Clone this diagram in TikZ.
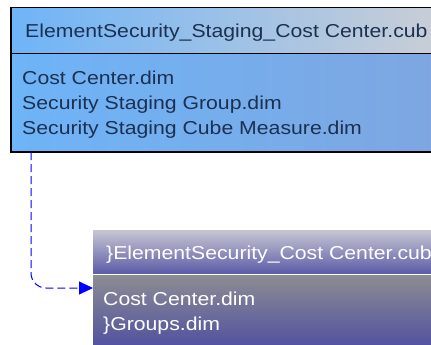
\documentclass[tikz,border=0pt]{standalone}
\usepackage{fontspec}
\setmainfont{Liberation Sans}[FakeStretch=1.135]
\usetikzlibrary{arrows.meta, positioning, shadows}

\definecolor{stageleft}{RGB}{110,180,248}
\definecolor{stagegray}{RGB}{202,206,214}
\definecolor{stagebody}{RGB}{126,166,224}
\definecolor{stagetext}{RGB}{28,48,80}
\definecolor{cubetop}{RGB}{198,198,210}
\definecolor{cubebottom}{RGB}{92,92,168}
\definecolor{dimtop}{RGB}{140,140,148}
\definecolor{dimbottom}{RGB}{78,78,160}

\begin{document}
\begin{tikzpicture}[x=1pt, y=-1pt,
    stagehead/.style={rectangle, draw=black, line width=1.5pt, anchor=north west, inner sep=0pt, minimum width=431pt, minimum height=46pt, left color=stageleft, right color=stagegray},
    stagebox/.style={rectangle, draw=black, line width=1.5pt, anchor=north west, inner sep=0pt, minimum width=431pt, minimum height=98pt, left color=stageleft, right color=stagebody, drop shadow={shadow xshift=1pt, shadow yshift=-1.5pt, opacity=0.35}},
    cubehead/.style={rectangle, anchor=north west, inner sep=0pt, minimum width=360pt, minimum height=43pt, top color=cubetop, bottom color=cubebottom},
    cubebox/.style={rectangle, anchor=north west, inner sep=0pt, minimum width=360pt, minimum height=75pt, top color=dimtop, bottom color=dimbottom},
    label/.style={inner sep=0pt, font=\fontsize{18.7}{25}\selectfont, align=left},
    flow/.style={-{Triangle[length=14pt, width=13pt]}, blue, line width=1pt, dash pattern=on 8pt off 4pt, rounded corners=15pt}
]
    \useasboundingbox (0,0) rectangle (431,345);
    \clip (0,0) rectangle (431,345);

    % Staging cube
    \node[stagebox] (stagebody) at (10,53) {};
    \node[stagehead] (stagecube) at (10,7) {};
    \node[label, text=stagetext, anchor=base west] (stagetitle) at (25,38) {ElementSecurity\_Staging\_Cost Center.cub};
    \node[label, text=stagetext, anchor=north west] (stagedims) at (22,70.3) {Cost Center.dim\\Security Staging Group.dim\\Security Staging Cube Measure.dim};

    % Target cube
    \node[cubehead] (cube) at (93,230) {};
    \node[cubebox] (cubebody) at (93,275) {};
    \node[label, text=white, anchor=base west] (cubetitle) at (106,259) {\}ElementSecurity\_Cost Center.cub};
    \node[label, text=white, anchor=north west] (cubedims) at (103,291.3) {Cost Center.dim\\\}Groups.dim};

    % Link
    \coordinate (source) at (31,152);
    \coordinate (target) at (93,288);
    \draw[flow] (source) |- (target);

\end{tikzpicture}
\end{document}
